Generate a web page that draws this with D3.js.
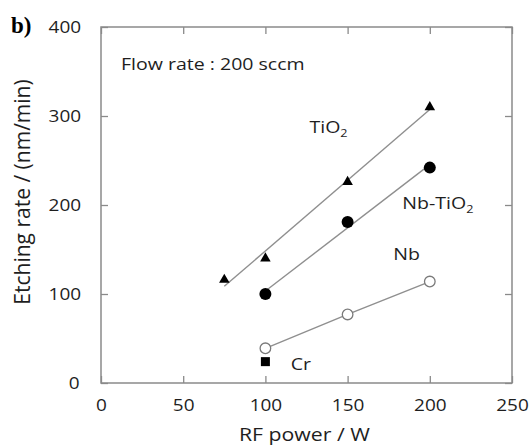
<!DOCTYPE html>
<html><head><meta charset="utf-8">
<script src="https://cdn.jsdelivr.net/npm/d3@7"></script>
<style>
body{margin:0;background:#fff;}
svg{display:block;}
text{font-family:"Open Sans",sans-serif;fill:#1e1e1e;}
.st{transform-box:fill-box;transform-origin:center;transform:scaleX(1.15);}
</style></head>
<body><svg id="c" width="532" height="446"></svg>
<script>
// ---- data ----
const xTicks = [0, 50, 100, 150, 200, 250];
const yTicks = [0, 100, 200, 300, 400];
const tio2Power = [75, 100, 150, 200];
const tio2Rate = [116, 140, 226, 310];
const nbtio2Power = [100, 150, 200];
const nbtio2Rate = [100, 181, 242];
const nbPower = [100, 150, 200];
const nbRate = [39, 77, 114];
const crPower = [100];
const crRate = [24];

const svg = d3.select("#c");
const L = 101, R = 512, T = 27, B = 383;
const x = d3.scaleLinear().domain([0, 250]).range([L, R]);
const y = d3.scaleLinear().domain([0, 400]).range([B, T]);
const axisCol = "#8a8a8a", lineCol = "#8f8f8f";

function styleAxis(g){
  g.select(".domain").remove();
  g.selectAll(".tick line").attr("stroke", axisCol).attr("stroke-width", 1.3);
  g.selectAll("text").attr("font-size", "16.5px").attr("fill", "#1e1e1e")
    .attr("font-family", "Open Sans").classed("st", true);
}
svg.append("g").attr("transform", `translate(0,${B})`)
  .call(d3.axisBottom(x).tickValues(xTicks).tickSizeInner(-7).tickSizeOuter(0).tickPadding(16))
  .call(styleAxis);
svg.append("g").attr("transform", `translate(0,${T})`)
  .call(d3.axisTop(x).tickValues(xTicks).tickSizeInner(-7).tickSizeOuter(0).tickFormat(""))
  .call(styleAxis);
svg.append("g").attr("transform", `translate(${L},0)`)
  .call(d3.axisLeft(y).tickValues(yTicks).tickSizeInner(-7).tickSizeOuter(0).tickPadding(22))
  .call(styleAxis);
svg.append("g").attr("transform", `translate(${R},0)`)
  .call(d3.axisRight(y).tickValues(yTicks).tickSizeInner(-7).tickSizeOuter(0).tickFormat(""))
  .call(styleAxis);

svg.append("rect").attr("x", L).attr("y", T).attr("width", R - L).attr("height", B - T)
  .attr("fill", "none").attr("stroke", axisCol).attr("stroke-width", 1.5);

// regression helper
function fit(xs, ys){
  const mx = d3.mean(xs), my = d3.mean(ys);
  let sxy = 0, sxx = 0;
  xs.forEach((v, i) => { sxy += (v - mx) * (ys[i] - my); sxx += (v - mx) * (v - mx); });
  const b = sxy / sxx, a = my - b * mx;
  return v => a + b * v;
}
const line = d3.line().x(d => x(d[0])).y(d => y(d[1]));
function drawFit(xs, ys){
  const f = fit(xs, ys);
  const ext = d3.extent(xs);
  svg.append("path").attr("d", line(ext.map(v => [v, f(v)])))
    .attr("fill", "none").attr("stroke", lineCol).attr("stroke-width", 1.4);
}
drawFit(tio2Power, tio2Rate);
drawFit(nbtio2Power, nbtio2Rate);
svg.append("path").attr("d", line(nbPower.map((v, i) => [v, nbRate[i]])))
  .attr("fill", "none").attr("stroke", lineCol).attr("stroke-width", 1.4);

// markers
const tri = d3.symbol().type(d3.symbolTriangle).size(48);
svg.append("g").selectAll("path").data(tio2Power).join("path")
  .attr("d", tri).attr("transform", (d, i) => `translate(${x(d)},${y(tio2Rate[i])})`).attr("fill", "#000");
svg.append("g").selectAll("circle").data(nbtio2Power).join("circle")
  .attr("cx", d => x(d)).attr("cy", (d, i) => y(nbtio2Rate[i])).attr("r", 6).attr("fill", "#000");
svg.append("g").selectAll("circle").data(nbPower).join("circle")
  .attr("cx", d => x(d)).attr("cy", (d, i) => y(nbRate[i])).attr("r", 5.3)
  .attr("fill", "#fff").attr("stroke", "#7a7a7a").attr("stroke-width", 1.3);
svg.append("g").selectAll("rect").data(crPower).join("rect")
  .attr("x", d => x(d) - 4.5).attr("y", (d, i) => y(crRate[i]) - 4.5)
  .attr("width", 9).attr("height", 9).attr("fill", "#000");

// labels
function label(txt, sub, lx, ly){
  const t = svg.append("text").attr("x", lx).attr("y", ly).attr("font-size", "17px").classed("st", true);
  t.append("tspan").text(txt);
  if (sub) t.append("tspan").attr("font-size", "11px").attr("dy", 4).text(sub);
}
label("Flow rate : 200 sccm", null, 133, 70);
label("TiO", "2", 312, 133);
label("Nb-TiO", "2", 407, 209);
label("Nb", null, 395, 260);
label("Cr", null, 292, 370);

svg.append("text").attr("x", (L + R) / 2 - 2).attr("y", 441).attr("text-anchor", "middle")
  .attr("font-size", "18.5px").classed("st", true).text("RF power / W");
svg.append("g").attr("transform", `translate(30,192) rotate(-90)`)
  .append("text").attr("text-anchor", "middle").attr("font-size", "21px").text("Etching rate / (nm/min)");

svg.append("text").attr("x", 11).attr("y", 33)
  .style("font-family", "'Liberation Serif', 'DejaVu Serif', serif")
  .style("font-weight", "bold").style("font-size", "23px").style("fill", "#000").text("b)");
</script></body></html>
